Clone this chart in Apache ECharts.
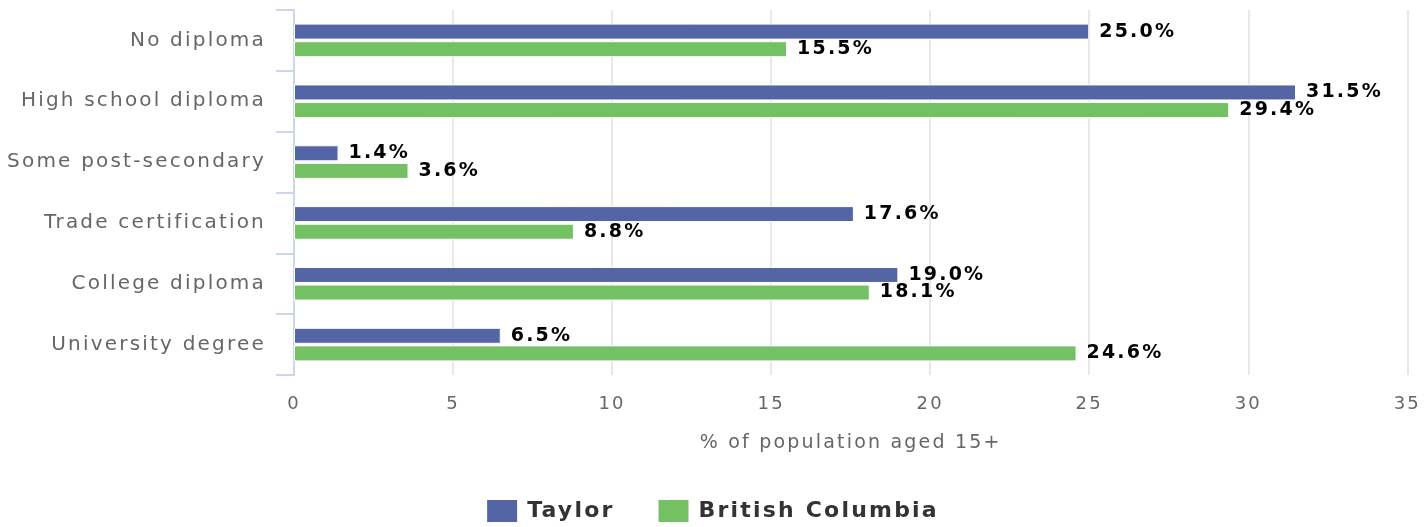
<!DOCTYPE html>
<html>
<head>
<meta charset="utf-8">
<script src="https://cdn.jsdelivr.net/npm/echarts@6/dist/echarts.min.js"></script>
<style>
    html, body { margin: 0; padding: 0; background: #fff; }
    #container { width: 1424px; height: 527px; }
</style>
</head>
<body>
<div id="container"></div>
<script>
    var categories = ['No diploma', 'High school diploma', 'Some post-secondary', 'Trade certification', 'College diploma', 'University degree'];
    var taylor = [25.0, 31.5, 1.4, 17.6, 19.0, 6.5];
    var bc = [15.5, 29.4, 3.6, 8.8, 18.1, 24.6];
    var seriesNames = ['Taylor', 'British Columbia'];
    var xTicks = {min: 0, max: 35, interval: 5};

    // the original text is letter-spaced, canvas can do that but echarts has no option for it
    var spacing = '2.2px';
    ['fillText', 'strokeText', 'measureText'].forEach(function (fn) {
        var orig = CanvasRenderingContext2D.prototype[fn];
        CanvasRenderingContext2D.prototype[fn] = function () {
            this.letterSpacing = spacing;
            return orig.apply(this, arguments);
        };
    });

    var font = 'DejaVu Sans';
    var labelStyle = {
        show: true, position: 'right', distance: 10,
        color: '#000', fontSize: 19, fontWeight: 'bold', fontFamily: font,
        formatter: function (p) { return p.value.toFixed(1) + '%'; }
    };
    var chart = echarts.init(document.getElementById('container'));
    chart.setOption({
        animation: false,
        textStyle: {fontFamily: font},
        grid: {left: 294, right: 16, top: 10, bottom: 152, containLabel: false},
        legend: {
            data: seriesNames,
            left: 'center',
            top: 493,
            icon: 'rect',
            itemWidth: 32,
            itemHeight: 24,
            itemGap: 42,
            textStyle: {color: '#333', fontSize: 22, fontWeight: 'bold', fontFamily: font, padding: [0, 0, 0, 4]}
        },
        xAxis: {
            type: 'value',
            min: xTicks.min,
            max: xTicks.max,
            interval: xTicks.interval,
            name: '% of population aged 15+',
            nameLocation: 'middle',
            nameGap: 57,
            nameTextStyle: {color: '#666', fontSize: 19, fontFamily: font},
            axisLine: {show: false},
            axisTick: {show: false},
            axisLabel: {color: '#666', fontSize: 18, margin: 19, fontFamily: font},
            splitLine: {lineStyle: {color: '#e0e0e0', width: 1.5}}
        },
        yAxis: {
            type: 'category',
            inverse: true,
            data: categories,
            axisLine: {show: true, lineStyle: {color: '#ccd6eb', width: 2}},
            axisTick: {show: true, length: 18, lineStyle: {color: '#ccd6eb', width: 2}},
            axisLabel: {color: '#666', fontSize: 20, margin: 28, fontFamily: font},
            splitLine: {show: false}
        },
        series: [{
            name: seriesNames[0],
            type: 'bar',
            data: taylor,
            barWidth: 16,
            barGap: '10%',
            itemStyle: {color: '#5465a6', borderColor: '#fff', borderWidth: 1},
            label: labelStyle
        }, {
            name: seriesNames[1],
            type: 'bar',
            data: bc,
            barWidth: 16,
            barGap: '10%',
            itemStyle: {color: '#73c163', borderColor: '#fff', borderWidth: 1},
            label: labelStyle
        }]
    });
</script>
</body>
</html>
